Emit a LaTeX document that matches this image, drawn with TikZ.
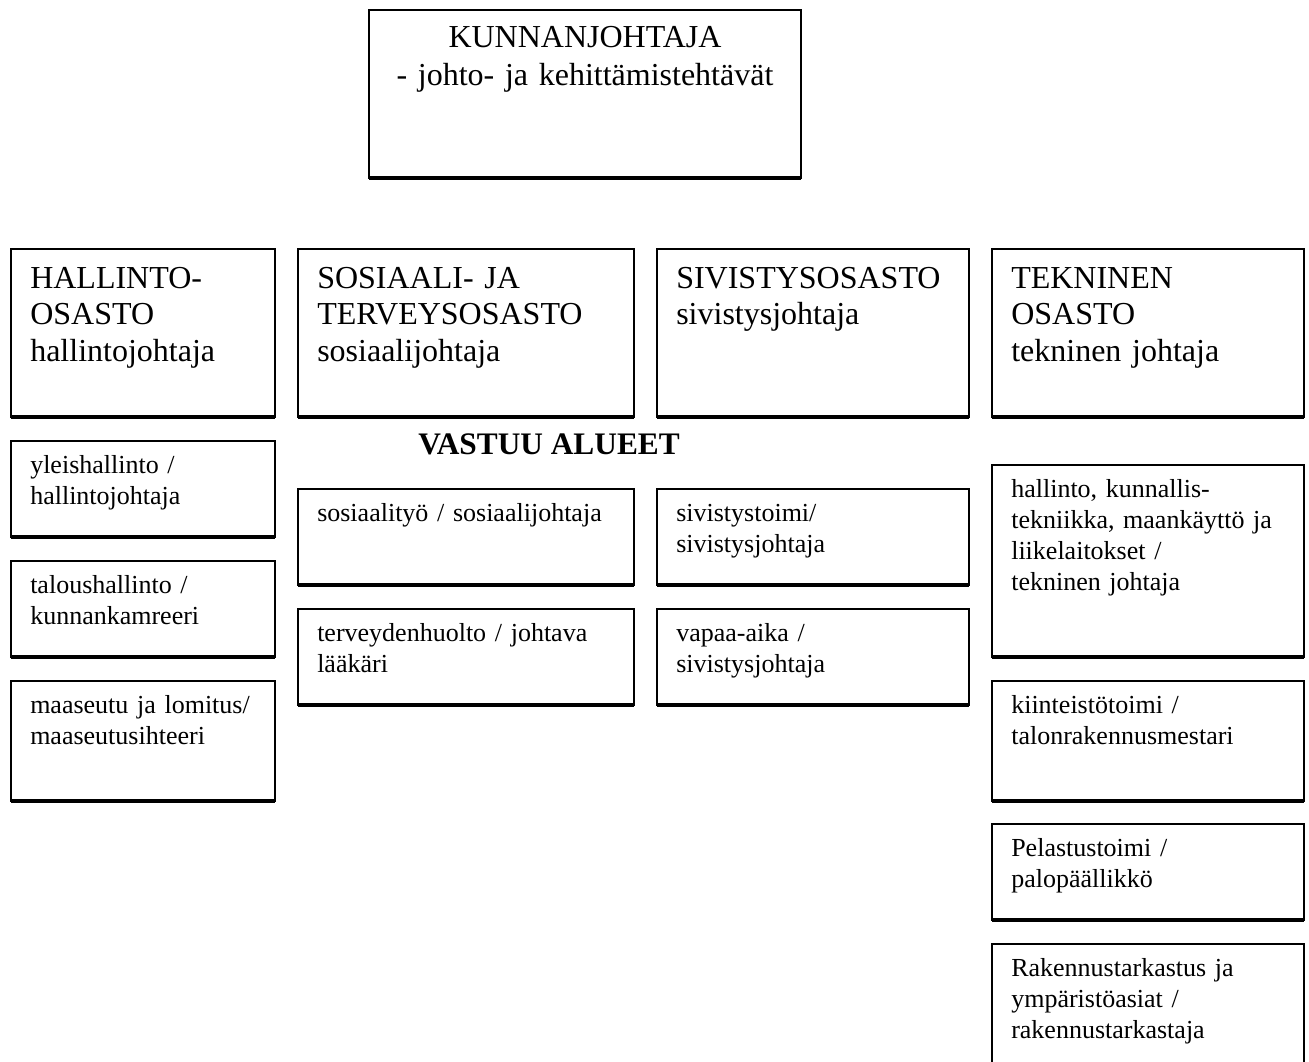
\documentclass[tikz,border=0pt]{standalone}
\usepackage{fontspec}
\setmainfont{Liberation Serif}
\begin{document}
\begin{tikzpicture}[x=0.75pt,y=-0.75pt,
  box/.style={draw, line width=1.6pt, inner sep=0pt, outer sep=0pt, anchor=north west},
  bigtxt/.style={anchor=base west, inner sep=0pt, align=left, text width=300pt, font=\fontsize{24}{27.5}\selectfont},
  smalltxt/.style={anchor=base west, inner sep=0pt, align=left, text width=240pt, font=\fontsize{19.5}{23.25}\selectfont},
  bottomedge/.style={line width=2.6pt}]
\useasboundingbox (0,0) rectangle (1309,1061);
\clip (0,0) rectangle (1309,1061);
\fill[white] (0,0) rectangle (1309,1061);
\newcommand{\mybx}[5]{\node[box, minimum width={(#4-#2)*0.75pt}, minimum height={(#5-#3)*0.75pt}] (#1) at (#2,#3) {};
  \draw[bottomedge] (#1.south west) -- (#1.south east);}
% top
\mybx{kj}{369}{10}{801}{178}
\node[anchor=base, inner sep=0pt, align=center, text width=420pt, font=\fontsize{24}{28.5}\selectfont] (kjt) at (585,47) {KUNNANJOHTAJA\\- johto- ja kehittämistehtävät};
% headers
\mybx{hal}{11}{249}{275}{417}
\mybx{sos}{298}{249}{634}{417}
\mybx{siv}{657}{249}{969}{417}
\mybx{tek}{992}{249}{1304}{417}
\node[bigtxt] (halt) at (30,288) {HALLINTO-\\OSASTO\\hallintojohtaja};
\node[bigtxt] (sost) at (317,288) {SOSIAALI- JA\\TERVEYSOSASTO\\sosiaalijohtaja};
\node[bigtxt] (sivt) at (676,288) {SIVISTYSOSASTO\\sivistysjohtaja};
\node[bigtxt] (tekt) at (1011,288) {TEKNINEN\\OSASTO\\tekninen johtaja};
\node[anchor=base, inner sep=0pt, font=\bfseries\fontsize{23.5}{27}\selectfont] (vastuu) at (549,454) {VASTUU ALUEET};
% left column
\mybx{h1}{11}{441}{275}{537}
\mybx{h2}{11}{561}{275}{657}
\mybx{h3}{11}{681}{275}{801}
\node[smalltxt] (h1t) at (30,473) {yleishallinto /\\hallintojohtaja};
\node[smalltxt] (h2t) at (30,593) {taloushallinto /\\kunnankamreeri};
\node[smalltxt] (h3t) at (30,713) {maaseutu ja lomitus/\\maaseutusihteeri};
% sosiaali
\mybx{s1}{298}{489}{634}{585}
\mybx{s2}{298}{609}{634}{705}
\node[smalltxt] (s1t) at (317,521) {sosiaalityö / sosiaalijohtaja};
\node[smalltxt] (s2t) at (317,641) {terveydenhuolto / johtava\\lääkäri};
% sivistys
\mybx{v1}{657}{489}{969}{585}
\mybx{v2}{657}{609}{969}{705}
\node[smalltxt] (v1t) at (676,521) {sivistystoimi/\\sivistysjohtaja};
\node[smalltxt] (v2t) at (676,641) {vapaa-aika /\\sivistysjohtaja};
% tekninen
\mybx{t1}{992}{465}{1304}{657}
\mybx{t2}{992}{681}{1304}{801}
\mybx{t3}{992}{824}{1304}{920}
\mybx{t4}{992}{944}{1304}{1080}
\node[smalltxt] (t1t) at (1011,497) {hallinto, kunnallis-\\tekniikka, maankäyttö ja\\liikelaitokset /\\tekninen johtaja};
\node[smalltxt] (t2t) at (1011,713) {kiinteistötoimi /\\talonrakennusmestari};
\node[smalltxt] (t3t) at (1011,856) {Pelastustoimi /\\palopäällikkö};
\node[smalltxt] (t4t) at (1011,976) {Rakennustarkastus ja\\ympäristöasiat /\\rakennustarkastaja};
\end{tikzpicture}
\end{document}
